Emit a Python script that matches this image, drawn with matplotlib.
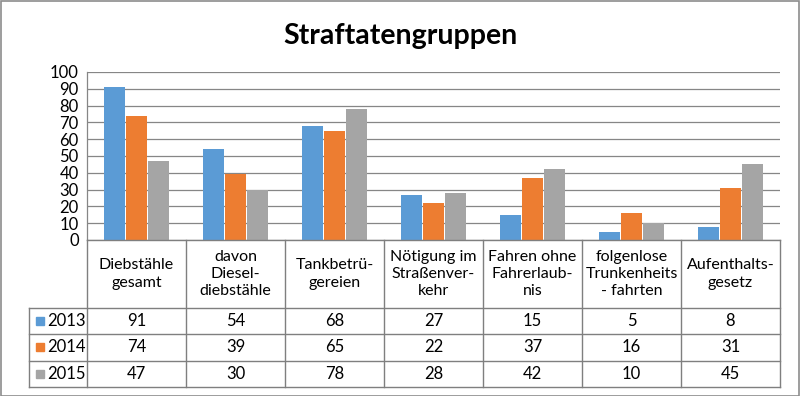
import matplotlib
matplotlib.use('Agg')
from matplotlib import pyplot as plt
from matplotlib.patches import Rectangle

categories = ['Diebstähle\ngesamt', 'davon\nDiesel-\ndiebstähle', 'Tankbetrü-\ngereien',
              'Nötigung im\nStraßenver-\nkehr', 'Fahren ohne\nFahrerlaub-\nnis',
              'folgenlose\nTrunkenheits\n- fahrten', 'Aufenthalts-\ngesetz']
years = ['2013', '2014', '2015']
values_2013 = [91, 54, 68, 27, 15, 5, 8]
values_2014 = [74, 39, 65, 22, 37, 16, 31]
values_2015 = [47, 30, 78, 28, 42, 10, 45]
y_ticks = list(range(0, 101, 10))

series = [values_2013, values_2014, values_2015]
colors = ['#5B9BD5', '#ED7D31', '#A5A5A5']

plt.rcParams['font.family'] = ['Lato', 'DejaVu Sans']

W, H = 800, 396
fig = plt.figure(figsize=(8, 3.96), dpi=100)


def box(x0, y0, x1, y1):
    # pixel box (top-left origin) -> figure fraction rect
    return [x0 / W, 1 - y1 / H, (x1 - x0) / W, (y1 - y0) / H]


ax = fig.add_axes(box(87, 72, 780, 240))
n = len(categories)
bar_w = 0.22
for i, (vals, col) in enumerate(zip(series, colors)):
    xs = [k + (i - 1) * bar_w for k in range(n)]
    ax.bar(xs, vals, width=bar_w * 0.97, color=col, zorder=3)

ax.set_xlim(-0.5, n - 0.5)
ax.set_ylim(0, 100)
ax.set_yticks(y_ticks)
ax.set_yticklabels([str(t) for t in y_ticks], fontsize=12)
ax.tick_params(axis='y', length=0, pad=6)
ax.set_xticks([])
ax.grid(axis='y', color='#868686', linewidth=0.9, zorder=0)
for side in ['top', 'right', 'bottom']:
    ax.spines[side].set_visible(False)
ax.spines['left'].set_color('#868686')
ax.spines['left'].set_linewidth(0.9)

fig.text(0.5, 1 - 36 / H, 'Straftatengruppen', ha='center', va='center',
         fontsize=20.5, fontweight='bold')

# data table below the plot
unit = (780 - 87) / n
leg_left = -0.5 - (87 - 29) / unit
tab = fig.add_axes(box(29, 240, 780, 388))
tab.set_xlim(leg_left, n - 0.5)
tab.set_ylim(388, 240)
tab.axis('off')
line_kw = dict(color='#7f7f7f', linewidth=1.0, clip_on=False)

row_edges = [308, 334, 361, 387]
for y in row_edges:
    tab.plot([leg_left, n - 0.5], [y, y], **line_kw)
tab.plot([-0.5, n - 0.5], [240, 240], **line_kw)
tab.plot([leg_left, leg_left], [308, 387], **line_kw)
for k in range(n + 1):
    tab.plot([k - 0.5, k - 0.5], [240, 387], **line_kw)

for k, label in enumerate(categories):
    tab.text(k, 274, label, ha='center', va='center', fontsize=11.5,
             linespacing=1.3)

for r, (year, vals, col) in enumerate(zip(years, series, colors)):
    yc = (row_edges[r] + row_edges[r + 1]) / 2
    tab.add_patch(Rectangle((leg_left + 7 / unit, yc - 4), 8 / unit, 8,
                            color=col, clip_on=False))
    tab.text(leg_left + 18 / unit, yc, year, ha='left', va='center', fontsize=12)
    for k, v in enumerate(vals):
        tab.text(k, yc, str(v), ha='center', va='center', fontsize=12)

fig.add_artist(Rectangle((0.5 / W, 0.5 / H), 1 - 1.5 / W, 1 - 1.5 / H,
                         transform=fig.transFigure, fill=False,
                         edgecolor='#8c8c8c', linewidth=1.2))

fig.savefig('out.png', dpi=100)
